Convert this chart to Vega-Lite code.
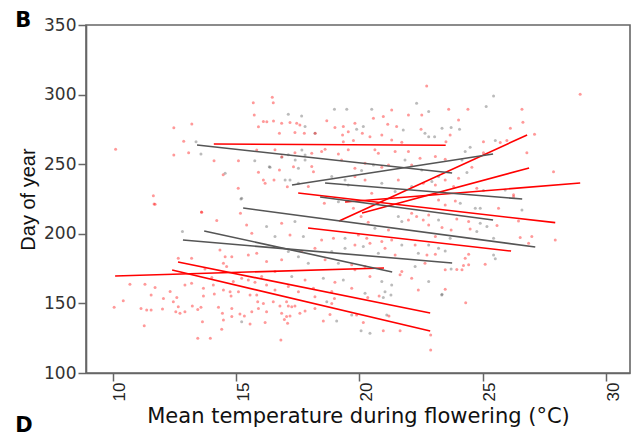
{
  "$schema": "https://vega.github.io/schema/vega-lite/v6.json",
  "width": 544,
  "height": 348,
  "autosize": "none",
  "padding": {"left": 86, "top": 25, "right": 7, "bottom": 63},
  "background": "white",
  "config": {
    "view": {"stroke": "#666666", "strokeWidth": 1.6},
    "axis": {
      "grid": false,
      "domainColor": "#666666",
      "domainWidth": 1.6,
      "tickColor": "#666666",
      "tickWidth": 1.5,
      "tickSize": 8,
      "labelFlush": false,
      "labelOverlap": false,
      "titleFontWeight": "normal",
      "titleColor": "#111111"
    }
  },
  "datasets": {
    "pts": [
      {"temp":15.70,"day":294.2,"grp":"r"},{"temp":15.74,"day":285.3,"grp":"r"},{"temp":15.91,"day":276.9,"grp":"r"},
      {"temp":13.21,"day":278.9,"grp":"r"},{"temp":12.48,"day":276.2,"grp":"r"},{"temp":12.88,"day":266.5,"grp":"r"},
      {"temp":13.38,"day":266.2,"grp":"g"},{"temp":10.12,"day":260.7,"grp":"r"},{"temp":12.48,"day":256.6,"grp":"r"},
      {"temp":13.08,"day":258.3,"grp":"r"},{"temp":13.58,"day":257.3,"grp":"g"},{"temp":14.11,"day":252.5,"grp":"r"},
      {"temp":15.10,"day":252.5,"grp":"r"},{"temp":15.76,"day":252.5,"grp":"g"},{"temp":15.91,"day":244.2,"grp":"r"},
      {"temp":14.48,"day":242.5,"grp":"r"},{"temp":14.56,"day":243.5,"grp":"g"},{"temp":15.09,"day":232.7,"grp":"r"},
      {"temp":11.65,"day":227.4,"grp":"r"},{"temp":15.23,"day":225.5,"grp":"g"},{"temp":11.68,"day":221.4,"grp":"r"},
      {"temp":13.60,"day":215.7,"grp":"r"},{"temp":15.84,"day":260.2,"grp":"r"},
      {"temp":16.47,"day":298.1,"grp":"r"},{"temp":16.51,"day":294.2,"grp":"r"},{"temp":17.12,"day":285.9,"grp":"g"},
      {"temp":17.66,"day":284.7,"grp":"g"},{"temp":16.11,"day":280.6,"grp":"r"},{"temp":16.85,"day":279.4,"grp":"r"},
      {"temp":17.19,"day":279.9,"grp":"r"},{"temp":17.46,"day":279.4,"grp":"r"},{"temp":17.59,"day":278.2,"grp":"r"},
      {"temp":17.80,"day":277.0,"grp":"g"},{"temp":16.76,"day":272.2,"grp":"r"},{"temp":17.39,"day":272.7,"grp":"r"},
      {"temp":17.77,"day":272.2,"grp":"r"},{"temp":18.20,"day":272.2,"grp":"g"},{"temp":18.68,"day":281.3,"grp":"r"},
      {"temp":18.99,"day":289.4,"grp":"g"},{"temp":19.49,"day":289.4,"grp":"g"},{"temp":19.01,"day":276.3,"grp":"r"},
      {"temp":19.35,"day":277.0,"grp":"r"},{"temp":19.32,"day":271.0,"grp":"r"},{"temp":19.55,"day":273.4,"grp":"r"},
      {"temp":19.82,"day":279.4,"grp":"r"},{"temp":19.89,"day":275.1,"grp":"g"},{"temp":20.16,"day":277.0,"grp":"g"},
      {"temp":20.12,"day":272.2,"grp":"r"},{"temp":20.43,"day":269.8,"grp":"r"},{"temp":20.50,"day":289.4,"grp":"g"},
      {"temp":20.57,"day":283.0,"grp":"r"},{"temp":20.97,"day":284.2,"grp":"r"},{"temp":21.15,"day":278.7,"grp":"r"},
      {"temp":21.31,"day":289.0,"grp":"r"},{"temp":21.51,"day":277.0,"grp":"r"},{"temp":21.78,"day":274.6,"grp":"g"},
      {"temp":21.72,"day":265.8,"grp":"r"},{"temp":20.91,"day":271.0,"grp":"r"},{"temp":21.31,"day":267.4,"grp":"r"},
      {"temp":22.32,"day":293.8,"grp":"g"},{"temp":22.73,"day":306.2,"grp":"r"},{"temp":22.53,"day":285.4,"grp":"r"},
      {"temp":22.50,"day":275.1,"grp":"r"},{"temp":22.66,"day":272.2,"grp":"g"},{"temp":21.99,"day":285.4,"grp":"r"},
      {"temp":19.35,"day":266.2,"grp":"r"},{"temp":19.76,"day":267.0,"grp":"r"},{"temp":16.58,"day":260.3,"grp":"r"},
      {"temp":17.39,"day":258.3,"grp":"r"},{"temp":18.47,"day":259.1,"grp":"r"},{"temp":18.61,"day":260.7,"grp":"r"},
      {"temp":19.15,"day":257.4,"grp":"r"},{"temp":19.55,"day":260.3,"grp":"r"},{"temp":20.63,"day":260.3,"grp":"r"},
      {"temp":20.77,"day":257.9,"grp":"r"},{"temp":21.45,"day":259.1,"grp":"r"},{"temp":21.99,"day":259.1,"grp":"r"},
      {"temp":17.12,"day":256.7,"grp":"g"},{"temp":16.85,"day":255.0,"grp":"g"},{"temp":17.80,"day":253.1,"grp":"g"},
      {"temp":16.38,"day":247.8,"grp":"g"},{"temp":18.07,"day":248.3,"grp":"r"},{"temp":19.28,"day":253.1,"grp":"r"},
      {"temp":19.82,"day":247.1,"grp":"r"},{"temp":20.23,"day":250.7,"grp":"r"},{"temp":20.09,"day":245.4,"grp":"g"},
      {"temp":20.57,"day":249.5,"grp":"g"},{"temp":20.91,"day":247.8,"grp":"r"},{"temp":21.18,"day":249.5,"grp":"r"},
      {"temp":21.85,"day":253.1,"grp":"g"},{"temp":22.12,"day":249.5,"grp":"r"},{"temp":22.46,"day":254.3,"grp":"r"},
      {"temp":22.53,"day":245.9,"grp":"g"},{"temp":16.99,"day":238.7,"grp":"g"},{"temp":17.53,"day":236.3,"grp":"g"},
      {"temp":18.88,"day":241.1,"grp":"g"},{"temp":19.42,"day":238.7,"grp":"g"},{"temp":19.82,"day":241.1,"grp":"r"},
      {"temp":19.55,"day":235.1,"grp":"g"},{"temp":20.23,"day":238.7,"grp":"r"},{"temp":20.91,"day":236.3,"grp":"g"},
      {"temp":21.58,"day":238.7,"grp":"r"},{"temp":22.12,"day":234.0,"grp":"g"},{"temp":22.59,"day":236.3,"grp":"r"},
      {"temp":17.93,"day":233.9,"grp":"r"},{"temp":20.50,"day":229.2,"grp":"r"},{"temp":21.45,"day":230.4,"grp":"g"},
      {"temp":16.25,"day":280.5,"grp":"r"},{"temp":16.52,"day":281.0,"grp":"r"},{"temp":16.11,"day":238.6,"grp":"r"},
      {"temp":16.18,"day":236.3,"grp":"r"},{"temp":16.35,"day":248.2,"grp":"g"},{"temp":16.54,"day":238.6,"grp":"r"},
      {"temp":16.76,"day":245.8,"grp":"r"},{"temp":16.86,"day":255.4,"grp":"r"},{"temp":17.08,"day":233.8,"grp":"r"},
      {"temp":17.19,"day":238.6,"grp":"g"},{"temp":17.33,"day":248.2,"grp":"r"},{"temp":17.40,"day":253.0,"grp":"g"},
      {"temp":17.53,"day":247.1,"grp":"g"},{"temp":17.67,"day":260.2,"grp":"g"},{"temp":17.80,"day":256.6,"grp":"g"},
      {"temp":18.07,"day":257.8,"grp":"r"},{"temp":18.14,"day":244.6,"grp":"r"},{"temp":18.21,"day":272.2,"grp":"r"},
      {"temp":28.95,"day":300.2,"grp":"r"},{"temp":25.44,"day":299.0,"grp":"g"},{"temp":25.14,"day":291.4,"grp":"g"},
      {"temp":22.81,"day":287.8,"grp":"g"},{"temp":23.62,"day":289.4,"grp":"r"},{"temp":24.40,"day":289.4,"grp":"r"},
      {"temp":26.59,"day":289.4,"grp":"r"},{"temp":24.02,"day":281.8,"grp":"r"},{"temp":26.63,"day":280.1,"grp":"r"},
      {"temp":23.35,"day":275.8,"grp":"g"},{"temp":23.72,"day":276.3,"grp":"g"},{"temp":24.06,"day":275.1,"grp":"g"},
      {"temp":26.12,"day":275.8,"grp":"r"},{"temp":27.10,"day":271.5,"grp":"r"},{"temp":23.68,"day":271.0,"grp":"r"},
      {"temp":22.81,"day":269.8,"grp":"g"},{"temp":23.05,"day":269.8,"grp":"g"},{"temp":23.51,"day":266.2,"grp":"r"},
      {"temp":25.03,"day":266.2,"grp":"r"},{"temp":25.51,"day":267.0,"grp":"g"},{"temp":25.71,"day":265.5,"grp":"r"},
      {"temp":25.98,"day":267.0,"grp":"r"},{"temp":26.79,"day":258.3,"grp":"r"},{"temp":24.49,"day":262.2,"grp":"g"},
      {"temp":24.29,"day":259.1,"grp":"g"},{"temp":25.03,"day":258.3,"grp":"r"},{"temp":23.08,"day":255.5,"grp":"r"},
      {"temp":23.48,"day":253.6,"grp":"r"},{"temp":24.16,"day":253.1,"grp":"g"},{"temp":24.56,"day":247.8,"grp":"r"},
      {"temp":24.36,"day":244.0,"grp":"g"},{"temp":24.02,"day":239.9,"grp":"r"},{"temp":23.21,"day":241.1,"grp":"g"},
      {"temp":23.48,"day":238.7,"grp":"r"},{"temp":22.94,"day":237.5,"grp":"g"},{"temp":27.87,"day":244.5,"grp":"r"},
      {"temp":24.76,"day":232.8,"grp":"r"},{"temp":23.82,"day":234.0,"grp":"r"},{"temp":23.08,"day":235.1,"grp":"r"},
      {"temp":26.25,"day":228.0,"grp":"r"},{"temp":25.91,"day":231.5,"grp":"g"},{"temp":25.03,"day":231.1,"grp":"g"},
      {"temp":11.72,"day":221.2,"grp":"r"},{"temp":13.61,"day":215.5,"grp":"r"},{"temp":14.22,"day":209.5,"grp":"r"},
      {"temp":15.20,"day":225.0,"grp":"g"},{"temp":15.18,"day":214.7,"grp":"r"},{"temp":15.43,"day":206.4,"grp":"r"},
      {"temp":15.64,"day":200.4,"grp":"r"},{"temp":12.83,"day":201.6,"grp":"g"},{"temp":14.35,"day":188.4,"grp":"r"},
      {"temp":14.56,"day":183.6,"grp":"r"},{"temp":14.83,"day":183.6,"grp":"r"},{"temp":15.50,"day":184.8,"grp":"r"},
      {"temp":15.84,"day":186.0,"grp":"r"},{"temp":12.66,"day":182.4,"grp":"r"},{"temp":13.20,"day":182.4,"grp":"r"},
      {"temp":14.49,"day":178.9,"grp":"r"},{"temp":14.62,"day":176.5,"grp":"r"},{"temp":13.74,"day":174.8,"grp":"r"},
      {"temp":14.02,"day":168.6,"grp":"r"},{"temp":15.23,"day":168.1,"grp":"r"},{"temp":15.50,"day":166.9,"grp":"r"},
      {"temp":14.89,"day":165.7,"grp":"r"},{"temp":15.77,"day":165.2,"grp":"r"},{"temp":10.70,"day":163.8,"grp":"r"},
      {"temp":11.31,"day":163.8,"grp":"r"},{"temp":11.72,"day":161.4,"grp":"r"},{"temp":12.93,"day":163.3,"grp":"r"},
      {"temp":13.20,"day":164.5,"grp":"r"},{"temp":14.08,"day":163.3,"grp":"r"},{"temp":13.68,"day":160.9,"grp":"r"},
      {"temp":14.49,"day":159.7,"grp":"r"},{"temp":12.33,"day":158.5,"grp":"r"},
      {"temp":11.56,"day":156.0,"grp":"r"},{"temp":12.60,"day":154.3,"grp":"r"},{"temp":12.06,"day":153.6,"grp":"r"},
      {"temp":13.68,"day":155.3,"grp":"r"},{"temp":14.12,"day":156.7,"grp":"r"},{"temp":14.76,"day":158.4,"grp":"r"},
      {"temp":15.10,"day":158.4,"grp":"r"},{"temp":15.57,"day":156.0,"grp":"r"},{"temp":14.80,"day":155.3,"grp":"r"},
      {"temp":10.43,"day":151.9,"grp":"r"},{"temp":10.06,"day":147.2,"grp":"r"},{"temp":11.15,"day":146.4,"grp":"r"},
      {"temp":11.38,"day":145.2,"grp":"r"},{"temp":11.56,"day":145.2,"grp":"r"},{"temp":12.02,"day":146.0,"grp":"r"},
      {"temp":12.46,"day":151.2,"grp":"r"},{"temp":12.66,"day":147.6,"grp":"r"},{"temp":12.93,"day":144.0,"grp":"r"},
      {"temp":12.56,"day":144.0,"grp":"r"},{"temp":12.73,"day":142.9,"grp":"r"},{"temp":13.23,"day":148.1,"grp":"r"},
      {"temp":13.45,"day":145.7,"grp":"r"},{"temp":13.58,"day":147.2,"grp":"r"},{"temp":14.29,"day":147.2,"grp":"r"},
      {"temp":14.45,"day":142.9,"grp":"r"},{"temp":14.83,"day":146.4,"grp":"r"},{"temp":14.83,"day":140.5,"grp":"r"},
      {"temp":14.49,"day":138.1,"grp":"r"},{"temp":15.16,"day":142.4,"grp":"r"},{"temp":15.34,"day":141.0,"grp":"r"},
      {"temp":15.23,"day":136.9,"grp":"g"},{"temp":15.64,"day":144.0,"grp":"r"},{"temp":15.57,"day":135.2,"grp":"r"},
      {"temp":15.91,"day":146.4,"grp":"r"},{"temp":11.28,"day":134.0,"grp":"r"},{"temp":13.64,"day":136.9,"grp":"r"},
      {"temp":14.42,"day":131.4,"grp":"r"},{"temp":13.45,"day":124.9,"grp":"r"},{"temp":13.96,"day":124.9,"grp":"r"},
      {"temp":18.58,"day":221.9,"grp":"r"},{"temp":19.15,"day":223.1,"grp":"g"},{"temp":19.76,"day":218.3,"grp":"r"},
      {"temp":20.07,"day":212.4,"grp":"r"},{"temp":20.36,"day":208.3,"grp":"r"},{"temp":21.58,"day":212.4,"grp":"g"},
      {"temp":21.72,"day":208.8,"grp":"g"},{"temp":21.99,"day":210.0,"grp":"r"},{"temp":22.32,"day":212.4,"grp":"r"},
      {"temp":22.59,"day":210.0,"grp":"r"},{"temp":22.12,"day":214.7,"grp":"r"},{"temp":21.18,"day":202.8,"grp":"r"},
      {"temp":20.63,"day":204.0,"grp":"g"},{"temp":19.96,"day":199.2,"grp":"r"},{"temp":20.30,"day":196.8,"grp":"r"},
      {"temp":20.43,"day":193.2,"grp":"r"},{"temp":20.91,"day":194.4,"grp":"r"},{"temp":21.31,"day":195.6,"grp":"r"},
      {"temp":19.42,"day":196.8,"grp":"g"},{"temp":18.95,"day":196.8,"grp":"r"},{"temp":18.47,"day":195.6,"grp":"r"},
      {"temp":17.73,"day":198.0,"grp":"g"},{"temp":17.19,"day":199.2,"grp":"r"},{"temp":16.85,"day":207.6,"grp":"r"},
      {"temp":17.39,"day":208.8,"grp":"g"},{"temp":16.24,"day":205.2,"grp":"g"},{"temp":16.58,"day":198.0,"grp":"g"},
      {"temp":17.12,"day":187.2,"grp":"g"},{"temp":17.66,"day":187.2,"grp":"r"},{"temp":18.20,"day":189.6,"grp":"r"},
      {"temp":18.88,"day":187.2,"grp":"g"},{"temp":19.42,"day":189.6,"grp":"g"},{"temp":19.82,"day":192.0,"grp":"r"},
      {"temp":20.16,"day":190.8,"grp":"g"},{"temp":21.04,"day":189.6,"grp":"r"},{"temp":21.72,"day":192.0,"grp":"g"},
      {"temp":22.26,"day":192.0,"grp":"r"},{"temp":22.39,"day":186.0,"grp":"g"},{"temp":21.45,"day":184.8,"grp":"r"},
      {"temp":20.77,"day":186.0,"grp":"g"},{"temp":16.24,"day":180.1,"grp":"r"},{"temp":16.85,"day":181.3,"grp":"r"},
      {"temp":17.53,"day":183.6,"grp":"g"},{"temp":17.93,"day":178.9,"grp":"g"},{"temp":18.61,"day":181.3,"grp":"r"},
      {"temp":19.15,"day":178.9,"grp":"g"},{"temp":19.69,"day":177.7,"grp":"r"},{"temp":19.82,"day":174.1,"grp":"r"},
      {"temp":20.23,"day":176.5,"grp":"r"},{"temp":21.72,"day":172.9,"grp":"r"},{"temp":22.26,"day":176.5,"grp":"g"},
      {"temp":22.66,"day":178.9,"grp":"r"},{"temp":16.04,"day":169.3,"grp":"r"},{"temp":16.58,"day":172.9,"grp":"r"},
      {"temp":17.26,"day":169.3,"grp":"g"},{"temp":17.80,"day":166.9,"grp":"r"},{"temp":18.54,"day":168.1,"grp":"g"},
      {"temp":19.01,"day":165.2,"grp":"r"},{"temp":19.35,"day":166.9,"grp":"g"},{"temp":20.43,"day":169.3,"grp":"r"},
      {"temp":20.91,"day":165.7,"grp":"g"},{"temp":21.31,"day":163.3,"grp":"g"},{"temp":21.65,"day":170.5,"grp":"r"},
      {"temp":22.12,"day":168.1,"grp":"r"},{"temp":16.24,"day":163.3,"grp":"r"},{"temp":16.58,"day":159.7,"grp":"r"},
      {"temp":17.12,"day":162.1,"grp":"r"},{"temp":18.14,"day":160.9,"grp":"r"},{"temp":18.88,"day":158.5,"grp":"r"},
      {"temp":19.69,"day":160.9,"grp":"r"},{"temp":20.23,"day":157.3,"grp":"g"},{"temp":22.39,"day":159.7,"grp":"r"},
      {"temp":23.21,"day":224.3,"grp":"r"},{"temp":23.89,"day":223.6,"grp":"r"},{"temp":24.09,"day":221.9,"grp":"g"},
      {"temp":26.25,"day":226.7,"grp":"r"},{"temp":26.59,"day":217.1,"grp":"g"},{"temp":23.48,"day":220.7,"grp":"r"},
      {"temp":24.70,"day":218.3,"grp":"g"},{"temp":24.90,"day":218.3,"grp":"g"},{"temp":25.64,"day":218.3,"grp":"r"},
      {"temp":22.81,"day":213.5,"grp":"r"},{"temp":23.21,"day":210.0,"grp":"g"},{"temp":23.95,"day":210.7,"grp":"r"},
      {"temp":24.43,"day":208.8,"grp":"r"},{"temp":24.90,"day":207.6,"grp":"g"},{"temp":25.17,"day":205.2,"grp":"g"},
      {"temp":25.58,"day":205.9,"grp":"r"},{"temp":26.45,"day":209.2,"grp":"r"},{"temp":22.81,"day":206.4,"grp":"r"},
      {"temp":23.35,"day":204.5,"grp":"r"},{"temp":23.72,"day":202.8,"grp":"r"},{"temp":24.49,"day":203.5,"grp":"r"},
      {"temp":24.76,"day":201.6,"grp":"g"},{"temp":23.68,"day":196.8,"grp":"g"},{"temp":23.08,"day":198.0,"grp":"r"},
      {"temp":25.44,"day":196.8,"grp":"g"},{"temp":26.52,"day":197.3,"grp":"r"},{"temp":26.99,"day":198.0,"grp":"r"},
      {"temp":27.94,"day":195.6,"grp":"r"},{"temp":26.86,"day":193.2,"grp":"r"},{"temp":22.81,"day":192.0,"grp":"g"},
      {"temp":23.21,"day":189.6,"grp":"g"},{"temp":23.48,"day":187.7,"grp":"g"},{"temp":23.08,"day":185.3,"grp":"r"},
      {"temp":22.74,"day":184.8,"grp":"r"},{"temp":24.29,"day":182.4,"grp":"r"},{"temp":24.43,"day":185.3,"grp":"r"},
      {"temp":25.44,"day":184.8,"grp":"g"},{"temp":25.51,"day":182.0,"grp":"g"},{"temp":25.10,"day":178.1,"grp":"r"},
      {"temp":24.43,"day":177.7,"grp":"r"},{"temp":24.22,"day":177.2,"grp":"r"},{"temp":23.95,"day":174.3,"grp":"r"},
      {"temp":24.16,"day":174.1,"grp":"r"},{"temp":23.48,"day":174.1,"grp":"r"},{"temp":23.72,"day":174.8,"grp":"g"},
      {"temp":22.81,"day":165.7,"grp":"g"},{"temp":23.48,"day":160.2,"grp":"r"},{"temp":23.35,"day":156.6,"grp":"g"},
      {"temp":15.84,"day":156.0,"grp":"r"},{"temp":15.88,"day":151.2,"grp":"r"},{"temp":16.11,"day":150.0,"grp":"r"},
      {"temp":16.51,"day":151.2,"grp":"r"},{"temp":16.78,"day":148.1,"grp":"r"},{"temp":17.05,"day":151.2,"grp":"r"},
      {"temp":17.12,"day":148.1,"grp":"r"},{"temp":17.26,"day":147.6,"grp":"r"},{"temp":17.39,"day":148.1,"grp":"r"},
      {"temp":16.24,"day":144.0,"grp":"r"},{"temp":16.85,"day":142.9,"grp":"r"},{"temp":17.05,"day":140.5,"grp":"r"},
      {"temp":17.19,"day":141.0,"grp":"r"},{"temp":17.59,"day":142.9,"grp":"r"},{"temp":17.80,"day":144.5,"grp":"r"},
      {"temp":16.18,"day":136.2,"grp":"r"},{"temp":16.96,"day":138.5,"grp":"r"},{"temp":17.09,"day":135.7,"grp":"r"},
      {"temp":18.20,"day":154.8,"grp":"r"},{"temp":18.20,"day":146.4,"grp":"r"},{"temp":18.68,"day":151.2,"grp":"g"},
      {"temp":18.88,"day":150.0,"grp":"r"},{"temp":18.99,"day":153.6,"grp":"r"},{"temp":18.54,"day":137.4,"grp":"r"},
      {"temp":18.81,"day":142.1,"grp":"r"},{"temp":19.08,"day":137.4,"grp":"g"},{"temp":19.69,"day":141.7,"grp":"g"},
      {"temp":19.89,"day":141.7,"grp":"r"},{"temp":20.16,"day":136.2,"grp":"r"},{"temp":20.07,"day":130.4,"grp":"g"},
      {"temp":20.43,"day":128.5,"grp":"g"},{"temp":20.34,"day":154.3,"grp":"r"},{"temp":20.80,"day":155.3,"grp":"r"},
      {"temp":20.97,"day":154.3,"grp":"g"},{"temp":21.04,"day":158.4,"grp":"g"},{"temp":21.28,"day":156.0,"grp":"g"},
      {"temp":21.11,"day":141.7,"grp":"g"},{"temp":21.20,"day":140.9,"grp":"r"},{"temp":20.97,"day":130.4,"grp":"r"},
      {"temp":21.65,"day":130.4,"grp":"r"},{"temp":16.82,"day":123.7,"grp":"r"},{"temp":22.89,"day":127.3,"grp":"r"},
      {"temp":22.89,"day":116.5,"grp":"r"},{"temp":23.34,"day":156.0,"grp":"g"},{"temp":24.31,"day":150.5,"grp":"r"},
      {"temp":17.53,"day":158.4,"grp":"r"}
    ],
    "lines": [
      {"id":"R1","grp":"r","temp":14.10,"day":264.5},{"id":"R1","grp":"r","temp":23.50,"day":263.6},
      {"id":"R2","grp":"r","temp":19.18,"day":209.2},{"id":"R2","grp":"r","temp":26.80,"day":271.0},
      {"id":"R3","grp":"r","temp":20.11,"day":215.0},{"id":"R3","grp":"r","temp":26.88,"day":247.3},
      {"id":"R4","grp":"r","temp":19.42,"day":222.8},{"id":"R4","grp":"r","temp":28.95,"day":236.5},
      {"id":"R5","grp":"r","temp":17.52,"day":229.3},{"id":"R5","grp":"r","temp":27.94,"day":208.0},
      {"id":"R6","grp":"r","temp":17.92,"day":204.2},{"id":"R6","grp":"r","temp":26.15,"day":187.6},
      {"id":"R7","grp":"r","temp":10.10,"day":169.7},{"id":"R7","grp":"r","temp":21.00,"day":175.4},
      {"id":"R8","grp":"r","temp":12.65,"day":179.7},{"id":"R8","grp":"r","temp":22.87,"day":143.1},
      {"id":"R9","grp":"r","temp":12.41,"day":174.0},{"id":"R9","grp":"r","temp":22.87,"day":130.2},
      {"id":"G1","grp":"g","temp":13.42,"day":263.8},{"id":"G1","grp":"g","temp":23.76,"day":243.7},
      {"id":"G2","grp":"g","temp":17.27,"day":235.1},{"id":"G2","grp":"g","temp":25.42,"day":257.3},
      {"id":"G3","grp":"g","temp":18.61,"day":236.5},{"id":"G3","grp":"g","temp":26.60,"day":225.0},
      {"id":"G4","grp":"g","temp":15.29,"day":218.5},{"id":"G4","grp":"g","temp":27.13,"day":190.5},
      {"id":"G5","grp":"g","temp":18.41,"day":226.4},{"id":"G5","grp":"g","temp":25.42,"day":209.9},
      {"id":"G6","grp":"g","temp":13.71,"day":202.0},{"id":"G6","grp":"g","temp":21.33,"day":172.6},
      {"id":"G7","grp":"g","temp":12.85,"day":195.5},{"id":"G7","grp":"g","temp":23.76,"day":179.0}
    ]
  },
  "layer": [
    {
      "data": {"name": "pts"},
      "mark": {"type": "circle", "size": 9, "opacity": 0.4},
      "encoding": {
        "x": {
          "field": "temp", "type": "quantitative",
          "scale": {"domain": [8.92, 30.97], "nice": false, "zero": false},
          "axis": {
            "title": "Mean temperature during flowering (°C)",
            "values": [10, 15, 20, 25, 30],
            "labelAngle": -90,
            "labelAlign": "right",
            "labelBaseline": "middle",
            "labelOffset": 7,
            "labelPadding": 1,
            "labelFont": "Liberation Sans",
            "labelFontSize": 17,
            "labelColor": "#222222",
            "titleFont": "DejaVu Sans",
            "titleFontSize": 21,
            "titlePadding": 5
          }
        },
        "y": {
          "field": "day", "type": "quantitative",
          "scale": {"domain": [100, 350], "nice": false, "zero": false},
          "axis": {
            "title": "Day of year",
            "values": [100, 150, 200, 250, 300, 350],
            "labelPadding": 2,
            "labelFont": "DejaVu Sans",
            "labelFontSize": 17,
            "labelColor": "#333333",
            "titleFont": "Liberation Sans",
            "titleFontSize": 20,
            "titlePadding": 5
          }
        },
        "color": {
          "field": "grp", "type": "nominal",
          "scale": {"domain": ["r", "g"], "range": ["#ff0000", "#555555"]},
          "legend": null
        }
      }
    },
    {
      "data": {"name": "lines"},
      "mark": {"type": "line", "strokeWidth": 1.6},
      "encoding": {
        "x": {"field": "temp", "type": "quantitative"},
        "y": {"field": "day", "type": "quantitative"},
        "detail": {"field": "id", "type": "nominal"},
        "color": {
          "field": "grp", "type": "nominal",
          "scale": {"domain": ["r", "g"], "range": ["#ff0000", "#5e5e5e"]},
          "legend": null
        }
      }
    },
    {
      "data": {"values": [{}]},
      "mark": {"type": "text", "text": "B", "font": "DejaVu Sans", "fontSize": 21, "fontWeight": "bold", "align": "left", "baseline": "alphabetic", "color": "#000000"},
      "encoding": {"x": {"datum": 6.05}, "y": {"datum": 348.6}}
    },
    {
      "data": {"values": [{}]},
      "mark": {"type": "text", "text": "D", "font": "DejaVu Sans", "fontSize": 21, "fontWeight": "bold", "align": "left", "baseline": "alphabetic", "color": "#000000"},
      "encoding": {"x": {"datum": 6.05}, "y": {"datum": 57.8}}
    }
  ]
}
